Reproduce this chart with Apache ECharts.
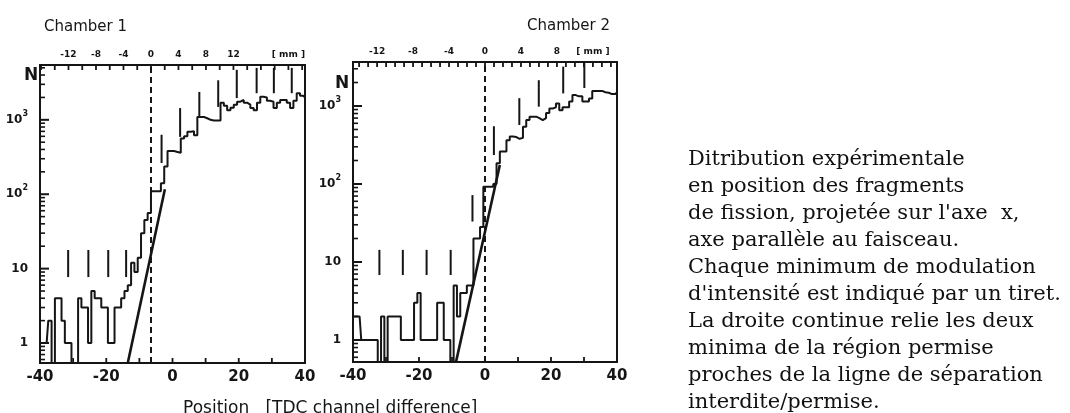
<!DOCTYPE html>
<html>
<head>
<meta charset="utf-8">
<script src="https://cdn.jsdelivr.net/npm/echarts@6/dist/echarts.min.js"></script>
<style>
  html, body { margin: 0; padding: 0; background: #fff; }
  #chart { width: 1070px; height: 413px; }
</style>
</head>
<body>
<div id="chart"></div>
<script>
// TDC channel of each histogram bin (bin centres)
const channels = [
  -40,-39,-38,-37,-36,-35,-34,-33,-32,-31,
  -30,-29,-28,-27,-26,-25,-24,-23,-22,-21,
  -20,-19,-18,-17,-16,-15,-14,-13,-12,-11,
  -10,-9,-8,-7,-6,-5,-4,-3,-2,-1,
  0,1,2,3,4,5,6,7,8,9,
  10,11,12,13,14,15,16,17,18,19,
  20,21,22,23,24,25,26,27,28,29,
  30,31,32,33,34,35,36,37,38,39,
  40
];

// Chamber 1 counts per channel
const countsChamber1 = [
  1,1,1,2,0,4,4,2,1,1,
  0,0,4,3,3,1,5,4,4,3,
  3,1,1,3,3,4,5,6,12,9,
  14,30,45,56,110,110,110,140,235,380,
  380,370,360,560,600,690,700,620,1090,1090,
  1050,1000,980,980,980,1690,1550,1350,1450,1600,
  1750,1850,1700,1600,1440,1350,1700,2040,2000,1800,
  1750,1440,1700,1850,1850,1700,1440,1800,2270,2100,
  2000
];

// Chamber 2 counts per channel
const countsChamber2 = [
  2,2,2,1,1,1,1,1,0,2,
  0,2,2,2,2,1,1,1,1,3,
  4,1,1,1,1,1,3,3,1,1,
  0,5,2,4,4,5,5,20,20,28,
  92,92,92,100,185,260,260,365,405,400,
  380,390,540,660,730,730,700,660,700,810,
  930,960,1080,880,960,960,1140,1380,1330,1330,
  1140,1140,1250,1560,1560,1560,1500,1480,1420,1420,
  1500
];

// Modulation minima (dash marks): channel, lower and upper count of each dash
const minimaCh1 = [-31.5, -25.4, -19.4, -14.0, -3.3, 2.3, 8.1, 13.8, 19.4, 25.4, 30.6, 36.0];
const minimaLo1 = [7.7, 7.7, 7.7, 7.7, 263, 590, 1090, 1490, 1960, 2280, 2280, 2280];
const minimaHi1 = [17.8, 17.8, 17.8, 17.8, 630, 1440, 2370, 3400, 4700, 4990, 4990, 4990];

const minimaCh2 = [-32.0, -24.9, -17.7, -10.4, -3.8, 2.7, 10.4, 16.3, 23.7, 30.1];
const minimaLo2 = [6.8, 6.8, 6.8, 6.8, 33, 235, 570, 980, 1450, 1700];
const minimaHi2 = [14.3, 14.3, 14.3, 14.3, 72, 550, 1260, 2140, 3200, 3550];

// Straight line joining the two minima next to the separation line: [channel, count]
const fitCh1 = [[-13.5, 0.54], [-2.3, 117]];
const fitCh2 = [[-8.8, 0.52], [4.5, 175]];

// Separation line (forbidden / allowed), in channels
const separation1 = -6.5;
const separation2 = 0;

// Position in mm: channel of 0 mm and mm per channel
const mmZero1 = -6.5, mmPerCh1 = 0.482;
const mmZero2 = 0, mmPerCh2 = 0.367;

// Axis labels and ticks
const xLabels = [-40, -20, 0, 20, 40];
const xTicks = [-30, -20, -10, 0, 10, 20, 30];
const yDecades = [1, 10, 100, 1000];
const yMinor = [0.6, 0.7, 0.8, 0.9, 2, 3, 4, 5, 6, 7, 8, 9, 20, 30, 40, 50, 60, 70, 80, 90,
                200, 300, 400, 500, 600, 700, 800, 900, 2000, 3000, 4000, 5000];
const mmLabels1 = [-12, -8, -4, 0, 4, 8, 12, 20];
const mmLabels2 = [-12, -8, -4, 0, 4, 8, 12];
const mmUnitAt1 = 20, mmUnitAt2 = 12;
const mmTicks1 = [-16,-14,-12,-10,-8,-6,-4,-2,0,2,4,6,8,10,12,14,16,18,20,22];
const mmTicks2 = [-14,-13,-12,-11,-10,-9,-8,-7,-6,-5,-4,-3,-2,-1,0,1,2,3,4,5,6,7,8,9,10,11,12,13,14];

// Vertical ranges of the two panels (counts)
const yRange1 = [0.539, 5456];
const yRange2 = [0.522, 3664];

const caption = [
  'Ditribution expérimentale',
  'en position des fragments',
  'de fission, projetée sur l\'axe  x,',
  'axe parallèle au faisceau.',
  'Chaque minimum de modulation',
  'd\'intensité est indiqué par un tiret.',
  'La droite continue relie les deux',
  'minima de la région permise',
  'proches de la ligne de séparation',
  'interdite/permise.'
];

const INK = '#151515';
const SANS = '"DejaVu Sans", "Liberation Sans", sans-serif';

function decadeLabel(v) {
  if (v === 1) return '{b|1}';
  if (v === 10) return '{b|10}';
  return '{b|10}{s|' + Math.round(Math.log10(v)) + '}';
}

const labelRich = {
  b: { fontSize: 12, fontWeight: 'bold', fontFamily: SANS, color: INK, lineHeight: 20 },
  s: { fontSize: 8, fontWeight: 'bold', fontFamily: SANS, color: INK, verticalAlign: 'top', lineHeight: 20 }
};

function bottomAxis(grid) {
  return {
    gridIndex: grid, type: 'value', min: -40, max: 40, position: 'bottom',
    axisLine: { show: true, onZero: false, lineStyle: { color: INK, width: 2 } },
    axisTick: { show: false },
    axisLabel: { customValues: xLabels, fontSize: 15, fontWeight: 'bold', fontFamily: SANS, color: INK, margin: 7 },
    splitLine: { show: false }
  };
}

function topAxis(grid, zero, perCh, labels, unitAt) {
  return {
    gridIndex: grid, type: 'value', position: 'top',
    min: (-40 - zero) * perCh, max: (40 - zero) * perCh,
    axisLine: { show: true, onZero: false, lineStyle: { color: INK, width: 2 } },
    axisTick: { show: false },
    axisLabel: {
      customValues: labels, fontSize: 9, fontWeight: 'bold', fontFamily: SANS, color: INK, margin: 6,
      formatter: v => (v === unitAt ? '[ mm ]' : String(v))
    },
    splitLine: { show: false }
  };
}

// count axis (log scale) with the decade labels
function countAxis(grid, range) {
  return {
    gridIndex: grid, type: 'log', logBase: 10, min: range[0], max: range[1], position: 'left',
    axisLine: { show: true, onZero: false, lineStyle: { color: INK, width: 2 } },
    axisTick: { show: false },
    axisLabel: { customValues: yDecades, formatter: decadeLabel, rich: labelRich, margin: 12 },
    splitLine: { show: false }
  };
}

// inward tick marks; dir = [dx, dy] direction of the mark from the axis
function tickMarks(xi, yi, points, len, dir, width) {
  return {
    type: 'custom', xAxisIndex: xi, yAxisIndex: yi, silent: true, z: 6,
    data: points,
    encode: { x: 0, y: 1 },
    renderItem: (params, api) => {
      const p = api.coord([api.value(0), api.value(1)]);
      return {
        type: 'line',
        shape: { x1: p[0], y1: p[1], x2: p[0] + dir[0] * len, y2: p[1] + dir[1] * len },
        style: { stroke: INK, lineWidth: width }
      };
    }
  };
}

function panelTicks(xb, xt, yi, range, mmTicks) {
  const inRange = v => v >= range[0] && v <= range[1];
  return [
    tickMarks(xb, yi, yDecades.filter(inRange).map(v => [-40, v]), 9, [1, 0], 2),
    tickMarks(xb, yi, yMinor.filter(inRange).map(v => [-40, v]), 5, [1, 0], 1.6),
    tickMarks(xb, yi, xTicks.map(c => [c, range[0]]), 5, [0, -1], 1.8),
    tickMarks(xt, yi, mmTicks.map(m => [m, range[1]]), 5, [0, 1], 1.8)
  ];
}

// zero bins fall below the axis floor and are clipped at the frame
function histData(counts, range) {
  return channels.map((c, i) => [c, counts[i] > 0 ? counts[i] : range[0] * 0.3]);
}

function histogram(xi, yi, counts, range, sep) {
  return {
    type: 'line', xAxisIndex: xi, yAxisIndex: yi, step: 'middle',
    data: histData(counts, range), symbol: 'none', clip: true,
    lineStyle: { color: INK, width: 2 }, silent: true, z: 3,
    markLine: {
      symbol: 'none', silent: true, label: { show: false },
      lineStyle: { color: INK, width: 2, type: [6, 4] },
      data: [{ xAxis: sep }]
    }
  };
}

function fitLine(xi, yi, pts) {
  return {
    type: 'line', xAxisIndex: xi, yAxisIndex: yi, data: pts, symbol: 'none', clip: true,
    lineStyle: { color: INK, width: 2.6 }, silent: true, z: 4
  };
}

function minimaMarks(xi, yi, ch, lo, hi) {
  return {
    type: 'custom', xAxisIndex: xi, yAxisIndex: yi, silent: true, z: 4,
    data: ch.map((c, i) => [c, lo[i], hi[i]]),
    encode: { x: 0, y: [1, 2] },
    renderItem: (params, api) => {
      const a = api.coord([api.value(0), api.value(1)]);
      const b = api.coord([api.value(0), api.value(2)]);
      return { type: 'line', shape: { x1: a[0], y1: a[1], x2: b[0], y2: b[1] }, style: { stroke: INK, lineWidth: 2 } };
    }
  };
}

const chart = echarts.init(document.getElementById('chart'), null, { renderer: 'canvas' });

chart.setOption({
  backgroundColor: '#ffffff',
  animation: false,
  title: [
    { text: 'Chamber 1', left: 39, top: 15, textStyle: { fontFamily: SANS, fontSize: 15, fontWeight: 'normal', color: INK } },
    { text: 'Chamber 2', left: 522, top: 14, textStyle: { fontFamily: SANS, fontSize: 15, fontWeight: 'normal', color: INK } },
    { text: 'Position   [TDC channel difference]', left: 178, top: 395, textStyle: { fontFamily: SANS, fontSize: 17, fontWeight: 'normal', color: INK } }
  ],
  grid: [
    { left: 40, top: 65, width: 265, height: 298, show: true, borderColor: INK, borderWidth: 2, backgroundColor: 'transparent' },
    { left: 353, top: 62, width: 264, height: 300, show: true, borderColor: INK, borderWidth: 2, backgroundColor: 'transparent' }
  ],
  xAxis: [
    bottomAxis(0),
    topAxis(0, mmZero1, mmPerCh1, mmLabels1, mmUnitAt1),
    bottomAxis(1),
    topAxis(1, mmZero2, mmPerCh2, mmLabels2, mmUnitAt2)
  ],
  yAxis: [
    countAxis(0, yRange1),
    countAxis(1, yRange2)
  ],
  graphic: [
    { type: 'text', left: 24, top: 67, style: { text: 'N', fontFamily: SANS, fontSize: 17, fontWeight: 'bold', fill: INK } },
    { type: 'text', left: 335, top: 75, style: { text: 'N', fontFamily: SANS, fontSize: 17, fontWeight: 'bold', fill: INK } },
    { type: 'text', left: 688, top: 146, style: { text: caption.join('\n'), fontFamily: '"DejaVu Serif", serif', fontSize: 21, lineHeight: 27, fill: '#111' } }
  ],
  series: [
    histogram(0, 0, countsChamber1, yRange1, separation1),
    fitLine(0, 0, fitCh1),
    minimaMarks(0, 0, minimaCh1, minimaLo1, minimaHi1),
    ...panelTicks(0, 1, 0, yRange1, mmTicks1),
    histogram(2, 1, countsChamber2, yRange2, separation2),
    fitLine(2, 1, fitCh2),
    minimaMarks(2, 1, minimaCh2, minimaLo2, minimaHi2),
    ...panelTicks(2, 3, 1, yRange2, mmTicks2)
  ]
});
</script>
</body>
</html>
